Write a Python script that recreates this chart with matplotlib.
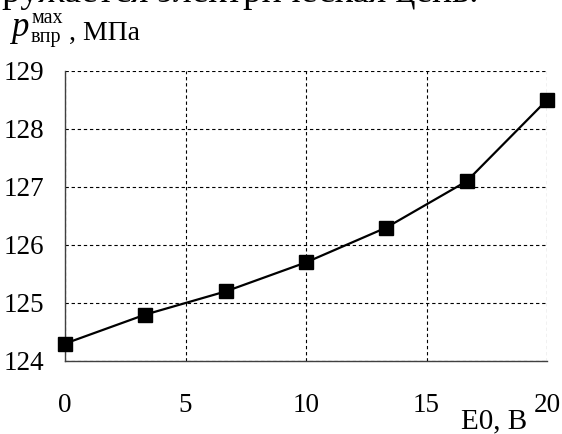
import matplotlib.pyplot as plt

plt.rcParams['font.family'] = ['Liberation Serif', 'DejaVu Serif']

# DATA
e0 = [0, 3.33, 6.67, 10, 13.33, 16.67, 20]
p_max = [124.3, 124.8, 125.2, 125.7, 126.3, 127.1, 128.5]
x_ticks = [0, 5, 10, 15, 20]
y_ticks = [124, 125, 126, 127, 128, 129]

W, H = 562, 434
fig = plt.figure(figsize=(W / 100, H / 100), dpi=100)
ax = fig.add_axes([65 / W, 73 / H, 482 / W, 290 / H])

ax.plot(e0, p_max, color='black', lw=1.6, marker='s', ms=10,
        mfc='black', mec='black', clip_on=False, zorder=3)

ax.set_xlim(0, 20)
ax.set_ylim(124, 129)
ax.set_xticks(x_ticks)
ax.set_yticks(y_ticks)

# dashed grid, top/right closed by the grid lines themselves
ax.grid(True, color='black', ls=(0, (3, 2.5)), lw=0.8)
for s in ['top', 'right']:
    ax.spines[s].set_visible(False)
for s in ['left', 'bottom']:
    ax.spines[s].set_color('#404040')
    ax.spines[s].set_linewidth(1.0)

ax.tick_params(axis='both', length=0, labelsize=19.5)
ax.tick_params(axis='x', pad=23)
ax.tick_params(axis='y', pad=15)


def px_text(x, y, s, **kw):
    # place text by pixel position from top-left corner
    return fig.text(x / W, 1 - y / H, s, va='baseline', ha='left', **kw)


# axis titles
px_text(461, 428, 'E0, В', fontsize=21)
px_text(11, 36, 'p', fontsize=25, style='italic')
px_text(31, 23, 'мах', fontsize=14.5)
px_text(31, 42, 'впр', fontsize=14.5)
px_text(69, 40, ', МПа', fontsize=20)

# cut-off line of the surrounding document text
px_text(2, 2, 'ружается электрическая цепь.', fontsize=27)

fig.savefig('out.png', dpi=100)
